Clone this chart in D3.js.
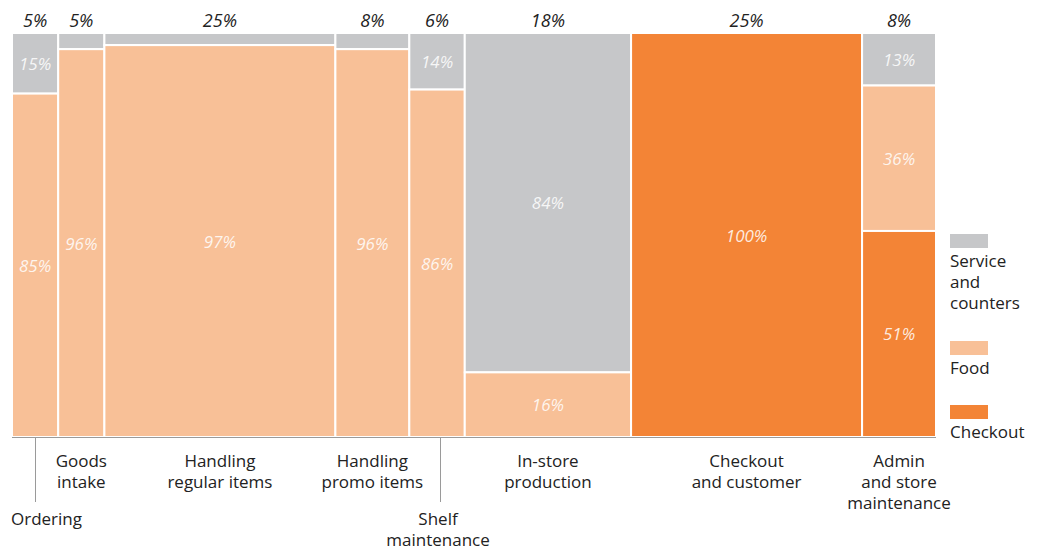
<!DOCTYPE html>
<html>
<head>
<meta charset="utf-8">
<script src="https://cdn.jsdelivr.net/npm/d3@7"></script>
<style>
  body { margin: 0; background: #fff; }
  svg { font-family: "Open Sans", "Noto Sans", sans-serif; }
</style>
</head>
<body>
<svg id="chart" width="1044" height="550"></svg>
<script>
// Activities (columns), their share of total time, and the split by department
const activities = ["Ordering", "Goods intake", "Handling regular items", "Handling promo items",
  "Shelf maintenance", "In-store production", "Checkout and customer", "Admin and store maintenance"];
const activityShare = [5, 5, 25, 8, 6, 18, 25, 8];
const serviceShare  = [15, 4, 3, 4, 14, 84, 0, 13];
const foodShare     = [85, 96, 97, 96, 86, 16, 0, 36];
const checkoutShare = [0, 0, 0, 0, 0, 0, 100, 51];

// Wrapped axis labels for each activity
const activityLines = [["Ordering"], ["Goods", "intake"], ["Handling", "regular items"], ["Handling", "promo items"],
  ["Shelf", "maintenance"], ["In-store", "production"], ["Checkout", "and customer"], ["Admin", "and store", "maintenance"]];
const seriesNames = ["Service and counters", "Food", "Checkout"];
const legendLines = [["Service", "and", "counters"], ["Food"], ["Checkout"]];
const seriesColors = ["#c6c7c9", "#f8c097", "#f38436"];

(function draw() {
const svg = d3.select("#chart");
const plotLeft = 12, plotRight = 936, plotTop = 33, plotBottom = 437;

const x = d3.scaleLinear().domain([0, d3.sum(activityShare)]).range([plotLeft, plotRight]);
const y = d3.scaleLinear().domain([0, 100]).range([plotTop, plotBottom]);

// Build column geometry
let cum = 0;
const cols = activities.map((a, i) => {
  const c = { name: a, i, x0: cum, x1: cum + activityShare[i], share: activityShare[i] };
  cum += activityShare[i];
  const vals = [serviceShare[i], foodShare[i], checkoutShare[i]];
  let s = 0;
  c.segs = vals.map((v, k) => {
    const seg = { k, v, y0: s, y1: s + v, col: c };
    s += v;
    return seg;
  }).filter(d => d.v > 0);
  return c;
});

const colG = svg.selectAll("g.col").data(cols).join("g").attr("class", "col");

colG.selectAll("rect").data(d => d.segs).join("rect")
  .attr("x", d => x(d.col.x0))
  .attr("width", d => x(d.col.x1) - x(d.col.x0))
  .attr("y", d => y(d.y0))
  .attr("height", d => y(d.y1) - y(d.y0))
  .attr("fill", d => seriesColors[d.k])
  .attr("stroke", "#fff")
  .attr("stroke-width", 2);

// Segment percentage labels (skip tiny slivers)
colG.selectAll("text.seg").data(d => d.segs.filter(s => s.v >= 10)).join("text")
  .attr("class", "seg")
  .attr("x", d => (x(d.col.x0) + x(d.col.x1)) / 2)
  .attr("y", d => (y(d.y0) + y(d.y1)) / 2)
  .attr("text-anchor", "middle")
  .attr("dominant-baseline", "central")
  .attr("font-style", "italic")
  .attr("font-size", 17)
  .attr("fill", "#fff")
  .attr("fill-opacity", 0.85)
  .text(d => d.v + "%");

// Column share labels on top
svg.selectAll("text.top").data(cols).join("text")
  .attr("class", "top")
  .attr("x", d => (x(d.x0) + x(d.x1)) / 2)
  .attr("y", 27)
  .attr("text-anchor", "middle")
  .attr("font-style", "italic")
  .attr("font-size", 18)
  .attr("fill", "#222")
  .text(d => d.share + "%");

// Baseline
svg.append("line")
  .attr("x1", plotLeft).attr("x2", plotRight)
  .attr("y1", plotBottom + 0.5).attr("y2", plotBottom + 0.5)
  .attr("stroke", "#9a9a9a").attr("stroke-width", 1.2);

// Activity labels; narrow columns get a leader line and a lower label
const lower = { 0: { tick: 35, anchor: "start", lx: 11 }, 4: { tick: 440, anchor: "middle", lx: 438 } };
cols.forEach((c, i) => {
  const cx = (x(c.x0) + x(c.x1)) / 2;
  const lines = activityLines[i];
  let lx = cx, anchor = "middle", y0 = 467;
  if (lower[i]) {
    svg.append("line")
      .attr("x1", lower[i].tick + 0.5).attr("x2", lower[i].tick + 0.5)
      .attr("y1", plotBottom).attr("y2", 502)
      .attr("stroke", "#9a9a9a").attr("stroke-width", 1);
    lx = lower[i].lx; anchor = lower[i].anchor; y0 = 525;
  }
  const t = svg.append("text")
    .attr("x", lx).attr("y", y0)
    .attr("text-anchor", anchor)
    .attr("font-size", 17)
    .attr("fill", "#222");
  lines.forEach((ln, j) => {
    t.append("tspan").attr("x", lx).attr("dy", j === 0 ? 0 : 21).text(ln);
  });
});

// Legend
const legendY = [234, 341, 405];
seriesNames.forEach((s, k) => {
  const g = svg.append("g").attr("transform", `translate(950,${legendY[k]})`);
  g.append("rect").attr("width", 38).attr("height", 14).attr("fill", seriesColors[k]);
  const t = g.append("text").attr("x", 0).attr("y", 33).attr("font-size", 17).attr("fill", "#222");
  legendLines[k].forEach((ln, j) => {
    t.append("tspan").attr("x", 0).attr("dy", j === 0 ? 0 : 21).text(ln);
  });
});
})();
</script>
</body>
</html>
